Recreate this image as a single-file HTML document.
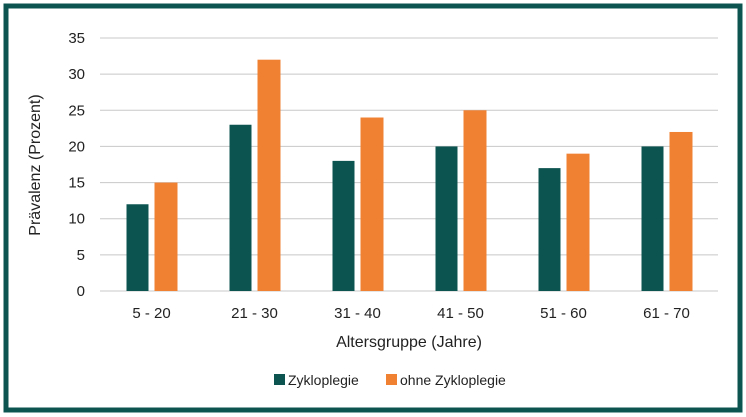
<!DOCTYPE html>
<html><head><meta charset="utf-8"><style>
body{margin:0;width:746px;height:417px;background:#fff;overflow:hidden}
svg{display:block;font-family:"Liberation Sans",sans-serif}
</style></head><body>
<svg id="c" width="746" height="417">
<rect x="6" y="6" width="734" height="404" fill="#fff" stroke="#0c5450" stroke-width="5"/>
<g id="grid"></g><g id="bars"></g><g id="xl"></g>
<text x="40" y="165" transform="rotate(-90 40 165)" text-anchor="middle" font-size="16" fill="#222">Prävalenz (Prozent)</text>
<text x="409" y="347" text-anchor="middle" font-size="16" fill="#222">Altersgruppe (Jahre)</text>
<g>
<rect x="274" y="374" width="11" height="11" fill="#0c5450"/>
<text x="288" y="385" font-size="14" fill="#222">Zykloplegie</text>
<rect x="386" y="374" width="11" height="11" fill="#f08032"/>
<text x="400" y="385" font-size="14" fill="#222">ohne Zykloplegie</text>
</g>
</svg>
<script>
const categories=["5 - 20","21 - 30","31 - 40","41 - 50","51 - 60","61 - 70"];
const withZ=[12,23,18,20,17,20];
const withoutZ=[15,32,24,25,19,22];
const yTicks=[0,5,10,15,20,25,30,35];
const NS="http://www.w3.org/2000/svg";
const x0=100,x1=718,y0=291,yTop=38,yMax=35;
const y=v=>y0-(y0-yTop)*v/yMax;
const bw=(x1-x0)/categories.length;
const xc=i=>x0+bw*(i+0.5);
function mk(t,a,p){const e=document.createElementNS(NS,t);for(const k in a)e.setAttribute(k,a[k]);p.appendChild(e);return e;}
const g=document.getElementById('grid');
yTicks.forEach(v=>{
 const l=mk('line',{x1:x0,x2:x1,y1:y(v),y2:y(v),stroke:'#c8c8c8','stroke-width':1},g);
 
 
 const t=mk('text',{x:85,y:y(v)+5,'text-anchor':'end','font-size':15,fill:'#222'},g);
 t.textContent=v;
 
 
});
const b=document.getElementById('bars'),xl=document.getElementById('xl');
categories.forEach((c,i)=>{
 const cx=xc(i);
 const r1=mk('rect',{x:cx-25,y:y(withZ[i]),width:22,height:y0-y(withZ[i]),fill:'#0c5450'},b);
 
 
 const r2=mk('rect',{x:cx+3,y:y(withoutZ[i]),width:23,height:y0-y(withoutZ[i]),fill:'#f08032'},b);
 
 
 const t=mk('text',{x:cx,y:318,'text-anchor':'middle','font-size':15,fill:'#222'},xl);
 t.textContent=c;
 
 
});
</script>
</body></html>
